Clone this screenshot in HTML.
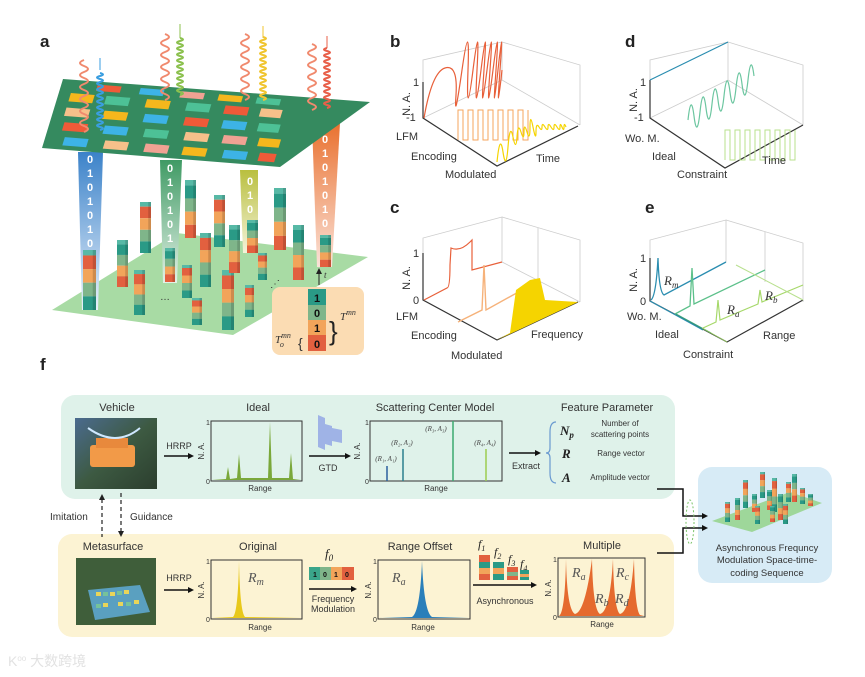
<!DOCTYPE html>
<html><head><meta charset="utf-8"><style>
html,body{margin:0;padding:0;background:#fff}
svg{display:block}
text{font-family:"Liberation Sans",Arial,sans-serif}
text:not([fill]){fill:#333}
.m{font-family:"Liberation Serif",serif;font-style:italic}
</style></head><body>
<svg width="865" height="677" viewBox="0 0 865 677" xmlns="http://www.w3.org/2000/svg">
<defs>
<symbol id="col" viewBox="0 0 12 44" preserveAspectRatio="none">
<rect x="0" y="0" width="12" height="4" fill="#57b9a6"/>
<rect x="0" y="4" width="12" height="10" fill="#e2603f"/>
<rect x="0" y="14" width="12" height="10" fill="#f2a45a"/>
<rect x="0" y="24" width="12" height="10" fill="#7fb58a"/>
<rect x="0" y="34" width="12" height="10" fill="#2a9a86"/>
<rect x="9" y="0" width="3" height="44" fill="#000" opacity="0.15"/>
</symbol>
<symbol id="col2" viewBox="0 0 12 44" preserveAspectRatio="none">
<rect x="0" y="0" width="12" height="4" fill="#57b9a6"/>
<rect x="0" y="4" width="12" height="10" fill="#2a9a86"/>
<rect x="0" y="14" width="12" height="10" fill="#7fb58a"/>
<rect x="0" y="24" width="12" height="10" fill="#f2a45a"/>
<rect x="0" y="34" width="12" height="10" fill="#e2603f"/>
<rect x="9" y="0" width="3" height="44" fill="#000" opacity="0.15"/>
</symbol>
<linearGradient id="gb" x1="0" y1="0" x2="0" y2="1"><stop offset="0" stop-color="#3b82c9"/><stop offset="1" stop-color="#e8f1fb"/></linearGradient>
<linearGradient id="gg" x1="0" y1="0" x2="0" y2="1"><stop offset="0" stop-color="#3f9a64"/><stop offset="1" stop-color="#e3f1e6"/></linearGradient>
<linearGradient id="gy" x1="0" y1="0" x2="0" y2="1"><stop offset="0" stop-color="#b9bf3e"/><stop offset="1" stop-color="#f4f3da"/></linearGradient>
<linearGradient id="go" x1="0" y1="0" x2="0" y2="1"><stop offset="0" stop-color="#e9712f"/><stop offset="1" stop-color="#fbe2d8"/></linearGradient>
<linearGradient id="car" x1="0" y1="0" x2="1" y2="1"><stop offset="0" stop-color="#4b6b8f"/><stop offset="0.5" stop-color="#3d5a42"/><stop offset="1" stop-color="#2b3e2e"/></linearGradient>
</defs>

<!-- ===== Panel a ===== -->
<text x="40" y="47" font-size="17" font-weight="bold" fill="#222">a</text>
<polygon points="52,310 177,233 368,257 233,335" fill="#a8dba4"/>
<polygon points="78,152 103,152 98,310 82,310" fill="url(#gb)"/>
<polygon points="160,160 182,160 177,283 163,283" fill="url(#gg)"/>
<polygon points="240,170 258,170 258,253 243,253" fill="url(#gy)"/>
<polygon points="312,123 340,123 332,267 317,267" fill="url(#go)"/>
<g font-size="11" font-weight="bold" text-anchor="middle">
<text x="90" y="163" fill="#fff">0</text><text x="90" y="177" fill="#fff">1</text><text x="90" y="191" fill="#fff">0</text><text x="90" y="205" fill="#fff">1</text><text x="90" y="219" fill="#fff">0</text><text x="90" y="233" fill="#fff">1</text><text x="90" y="247" fill="#fff">0</text>
<text x="170" y="172" fill="#fff">0</text><text x="170" y="186" fill="#fff">1</text><text x="170" y="200" fill="#fff">0</text><text x="170" y="214" fill="#fff">1</text><text x="170" y="228" fill="#fff">0</text><text x="170" y="242" fill="#fff">1</text><text x="170" y="256" fill="#fff">1</text>
<text x="250" y="185" fill="#fff">0</text><text x="250" y="199" fill="#fff">1</text><text x="250" y="213" fill="#fff">0</text>
<text x="325" y="143" fill="#fff">0</text><text x="325" y="157" fill="#fff">1</text><text x="325" y="171" fill="#fff">0</text><text x="325" y="185" fill="#fff">1</text><text x="325" y="199" fill="#fff">0</text><text x="325" y="213" fill="#fff">1</text><text x="325" y="227" fill="#fff">0</text>
</g>
<use href="#col" x="83" y="250" width="13" height="60"/>
<use href="#col2" x="117" y="240" width="11" height="47"/>
<use href="#col" x="140" y="202" width="11" height="51"/>
<use href="#col" x="134" y="270" width="11" height="45"/>
<use href="#col2" x="165" y="248" width="10" height="34"/>
<use href="#col" x="182" y="265" width="10" height="33"/>
<use href="#col2" x="185" y="180" width="11" height="58"/>
<use href="#col" x="192" y="298" width="10" height="27"/>
<use href="#col" x="200" y="233" width="11" height="54"/>
<use href="#col" x="214" y="195" width="11" height="52"/>
<use href="#col" x="222" y="270" width="12" height="60"/>
<use href="#col2" x="229" y="225" width="11" height="48"/>
<use href="#col2" x="247" y="220" width="11" height="33"/>
<use href="#col" x="245" y="285" width="9" height="32"/>
<use href="#col" x="258" y="253" width="9" height="27"/>
<use href="#col2" x="274" y="188" width="12" height="62"/>
<use href="#col2" x="293" y="225" width="11" height="55"/>
<use href="#col2" x="320" y="235" width="11" height="32"/>
<text x="160" y="300" font-size="10">…</text>
<text x="270" y="287" font-size="10">⋰</text>
<rect x="272" y="287" width="92" height="68" rx="8" fill="#fbdcb3"/>
<rect x="308" y="289" width="18" height="62" fill="#2a9a86"/>
<rect x="308" y="305" width="18" height="15" fill="#7fb58a"/>
<rect x="308" y="320" width="18" height="15" fill="#f2a45a"/>
<rect x="308" y="335" width="18" height="16" fill="#e2603f"/>
<g font-size="11" font-weight="bold" text-anchor="middle">
<text x="317" y="302" fill="#111">1</text><text x="317" y="317" fill="#111">0</text><text x="317" y="332" fill="#111">1</text><text x="317" y="348" fill="#111">0</text></g>
<line x1="319" y1="285" x2="319" y2="272" stroke="#222"/><polygon points="316,274 322,274 319,268" fill="#222"/>
<text x="324" y="278" class="m" font-size="9">t</text>
<text x="340" y="320" class="m" font-size="11">T<tspan font-size="8" dy="-5">mn</tspan></text>
<text x="275" y="343" class="m" font-size="11">T<tspan font-size="8" dy="-5">mn</tspan><tspan font-size="8" dx="-11" dy="9">o</tspan></text>
<text x="298" y="348" font-size="14">{</text>
<text x="329" y="340" font-size="26" fill="#222">}</text>
<polygon points="63,79 370,102 280,167 42,148" fill="#358a5f"/>
<g transform="matrix(238,19,21,-69,42,148)">
<rect x="0.08" y="0.06" width="0.1" height="0.12" fill="#3db3e6"/>
<rect x="0.25" y="0.06" width="0.1" height="0.12" fill="#f6c08a"/>
<rect x="0.42" y="0.06" width="0.1" height="0.12" fill="#f0a293"/>
<rect x="0.58" y="0.06" width="0.1" height="0.12" fill="#f5b71d"/>
<rect x="0.75" y="0.06" width="0.1" height="0.12" fill="#3db3e6"/>
<rect x="0.9" y="0.06" width="0.07" height="0.12" fill="#ef5a38"/>
<rect x="0.06" y="0.27" width="0.1" height="0.12" fill="#ef5a38"/>
<rect x="0.23" y="0.27" width="0.1" height="0.12" fill="#3db3e6"/>
<rect x="0.4" y="0.27" width="0.1" height="0.12" fill="#4dc196"/>
<rect x="0.57" y="0.27" width="0.1" height="0.12" fill="#f6c08a"/>
<rect x="0.73" y="0.27" width="0.1" height="0.12" fill="#f0a293"/>
<rect x="0.88" y="0.27" width="0.09" height="0.12" fill="#f5b71d"/>
<rect x="0.05" y="0.48" width="0.1" height="0.12" fill="#f6c08a"/>
<rect x="0.21" y="0.48" width="0.1" height="0.12" fill="#f5b71d"/>
<rect x="0.38" y="0.48" width="0.1" height="0.12" fill="#3db3e6"/>
<rect x="0.55" y="0.48" width="0.1" height="0.12" fill="#ef5a38"/>
<rect x="0.71" y="0.48" width="0.1" height="0.12" fill="#3db3e6"/>
<rect x="0.86" y="0.48" width="0.09" height="0.12" fill="#4dc196"/>
<rect x="0.05" y="0.69" width="0.1" height="0.12" fill="#f5b71d"/>
<rect x="0.2" y="0.69" width="0.1" height="0.12" fill="#4dc196"/>
<rect x="0.37" y="0.69" width="0.1" height="0.12" fill="#f5b71d"/>
<rect x="0.54" y="0.69" width="0.1" height="0.12" fill="#4dc196"/>
<rect x="0.7" y="0.69" width="0.1" height="0.12" fill="#ef5a38"/>
<rect x="0.85" y="0.69" width="0.09" height="0.12" fill="#f6c08a"/>
<rect x="0.15" y="0.87" width="0.1" height="0.09" fill="#ef5a38"/>
<rect x="0.33" y="0.87" width="0.1" height="0.09" fill="#3db3e6"/>
<rect x="0.5" y="0.87" width="0.1" height="0.09" fill="#f0a293"/>
<rect x="0.66" y="0.87" width="0.1" height="0.09" fill="#f5b71d"/>
<rect x="0.82" y="0.87" width="0.1" height="0.09" fill="#4dc196"/>
</g>
<g fill="none" stroke-width="2">
<path d="M84,132 q8,-3 0,-6 t0,-6 t0,-6 t0,-6 t0,-6 t0,-6 t0,-6 t0,-6 t0,-6 t0,-6 t0,-6 t0,-6" stroke="#f08a6e"/>
<path d="M100,130 q6,-1.5 0,-3 t0,-3 t0,-3 t0,-3 t0,-3 t0,-3 t0,-3 t0,-3 t0,-3 t0,-3 t0,-3 t0,-3 t0,-3 t0,-3 t0,-3 t0,-3 t0,-3 t0,-3 t0,-3" stroke="#3a9ee0"/>
<path d="M165,100 q8,-3 0,-6 t0,-6 t0,-6 t0,-6 t0,-6 t0,-6 t0,-6 t0,-6 t0,-6 t0,-6 t0,-6" stroke="#f08a6e"/>
<path d="M180,95 q6,-1.5 0,-3 t0,-3 t0,-3 t0,-3 t0,-3 t0,-3 t0,-3 t0,-3 t0,-3 t0,-3 t0,-3 t0,-3 t0,-3 t0,-3 t0,-3 t0,-3 t0,-3 t0,-3 t0,-3" stroke="#8cc14f"/>
<path d="M245,100 q8,-3 0,-6 t0,-6 t0,-6 t0,-6 t0,-6 t0,-6 t0,-6 t0,-6 t0,-6 t0,-6 t0,-6" stroke="#f08a6e"/>
<path d="M263,100 q6,-1.5 0,-3 t0,-3 t0,-3 t0,-3 t0,-3 t0,-3 t0,-3 t0,-3 t0,-3 t0,-3 t0,-3 t0,-3 t0,-3 t0,-3 t0,-3 t0,-3 t0,-3 t0,-3 t0,-3 t0,-3 t0,-3" stroke="#f0c530"/>
<path d="M312,110 q8,-3 0,-6 t0,-6 t0,-6 t0,-6 t0,-6 t0,-6 t0,-6 t0,-6 t0,-6 t0,-6 t0,-6" stroke="#f08a6e"/>
<path d="M327,108 q6,-1.5 0,-3 t0,-3 t0,-3 t0,-3 t0,-3 t0,-3 t0,-3 t0,-3 t0,-3 t0,-3 t0,-3 t0,-3 t0,-3 t0,-3 t0,-3 t0,-3 t0,-3 t0,-3 t0,-3 t0,-3" stroke="#e8604a"/>
</g>
<g stroke-width="1"><line x1="100" y1="70" x2="100" y2="58" stroke="#3a9ee0"/><line x1="180" y1="38" x2="180" y2="24" stroke="#8cc14f"/><line x1="263" y1="38" x2="263" y2="26" stroke="#f0c530"/><line x1="327" y1="48" x2="327" y2="36" stroke="#e8604a"/></g>

<!-- ===== Panel b ===== -->
<text x="390" y="47" font-size="17" font-weight="bold" fill="#222">b</text>
<g stroke="#ccc" fill="none" stroke-width="0.8">
<polyline points="423,118 423,60 502,42 502,80 423,118"/>
<polyline points="502,42 580,65 580,125"/><line x1="502" y1="80" x2="580" y2="125"/>
</g>
<g stroke="#333" fill="none" stroke-width="1.2"><polyline points="423,82 423,118 497,166 578,126"/></g>
<path d="M424,118 Q432,72 445,68 T456,95 T462,70 t6,0 t5,0 t4,0 t4,0 t3,0 t3,0 t3,0 t3,0 t3,0 t2,0 t2,0 t2,0" fill="none" stroke="#e8603a" stroke-width="1.2"/>
<path d="M458,140 v-30 h5 v30 h5 v-30 h5 v30 h5 v-30 h5 v30 h5 v-30 h5 v30 h5 v-30 h5 v30 h5 v-30 h5 v30 h5 v-30 h5 v30 h5 v-30" fill="none" stroke="#f6a55e" stroke-width="1"/>
<path d="M497,162 q3,-30 6,-10 t5,-5 t5,-10 t4,0 t4,-5 t3,0 t3,0 t3,-5 t3,0 t3,5 t3,-5 t3,0 t3,0 t3,0 t3,0 t3,0 t3,0 t3,0 t2,0 t2,0 t2,0" fill="none" stroke="#f5d400" stroke-width="1.2"/>
<g font-size="11"><text x="413" y="86">1</text><text x="406" y="121">-1</text>
<text x="410" y="104" transform="rotate(-90 410 104)" text-anchor="middle">N. A.</text>
<text x="396" y="140">LFM</text><text x="411" y="160">Encoding</text><text x="445" y="178">Modulated</text><text x="536" y="162">Time</text></g>

<!-- ===== Panel d ===== -->
<text x="625" y="47" font-size="17" font-weight="bold" fill="#222">d</text>
<g stroke="#ccc" fill="none" stroke-width="0.8">
<polyline points="650,118 650,60 728,42 728,80 650,118"/>
<polyline points="728,42 803,65 803,125"/><line x1="728" y1="80" x2="803" y2="125"/>
</g>
<g stroke="#333" fill="none" stroke-width="1.2"><polyline points="650,80 650,118 725,168 803,125"/></g>
<line x1="650" y1="80" x2="728" y2="42" stroke="#2a8db0" stroke-width="1.2"/>
<path d="M688,120 q3,-28 6,-4 t6,-4 t6,-4 t6,-4 t6,-4 t6,-4 t6,-4 t6,-4 t6,-4 t6,-4 t6,-4" fill="none" stroke="#6cc6a0" stroke-width="1.2"/>
<path d="M725,160 v-30 h5 v30 h5 v-30 h5 v30 h5 v-30 h5 v30 h5 v-30 h5 v30 h5 v-30 h5 v30 h5 v-30 h5 v30 h5 v-30 h5 v30 h5 v-30" fill="none" stroke="#b8e08e" stroke-width="1"/>
<g font-size="11"><text x="640" y="86">1</text><text x="634" y="121">-1</text>
<text x="637" y="100" transform="rotate(-90 637 100)" text-anchor="middle">N. A.</text>
<text x="625" y="142">Wo. M.</text><text x="652" y="160">Ideal</text><text x="677" y="178">Constraint</text><text x="762" y="164">Time</text></g>

<!-- ===== Panel c ===== -->
<text x="390" y="213" font-size="17" font-weight="bold" fill="#222">c</text>
<g stroke="#ccc" fill="none" stroke-width="0.8">
<polyline points="423,300 423,238 502,217 502,262"/>
<polyline points="502,217 580,240 580,302"/><line x1="502" y1="262" x2="580" y2="302"/><line x1="538" y1="228" x2="538" y2="280"/>
</g>
<g stroke="#333" fill="none" stroke-width="1.2"><polyline points="423,253 423,300 497,340 578,302"/></g>
<path d="M424,300 L447,288 Q450,288 450,265 L451,248 Q460,252 470,242 L472,240 L472,270 L502,262" fill="none" stroke="#e8603a" stroke-width="1.2"/>
<path d="M458,322 L482,310 L484,265 L486,310 L540,280" fill="none" stroke="#f6b27a" stroke-width="1.4"/>
<path d="M497,340 L510,333 L516,290 L530,280 L540,278 L545,300 L578,302 L497,340Z" fill="#f5d400"/>
<g font-size="11"><text x="413" y="257">1</text><text x="413" y="304">0</text>
<text x="410" y="278" transform="rotate(-90 410 278)" text-anchor="middle">N. A.</text>
<text x="396" y="320">LFM</text><text x="411" y="339">Encoding</text><text x="451" y="359">Modulated</text><text x="531" y="338">Frequency</text></g>

<!-- ===== Panel e ===== -->
<text x="645" y="213" font-size="17" font-weight="bold" fill="#222">e</text>
<g stroke="#ccc" fill="none" stroke-width="0.8">
<polyline points="650,300 650,240 726,220 726,262"/>
<polyline points="726,220 803,243 803,302"/><line x1="765" y1="232" x2="765" y2="282"/>
</g>
<g stroke="#333" fill="none" stroke-width="1.2"><polyline points="650,258 650,301 727,342 803,300"/></g>
<path d="M651,300 Q656,296 658,258 Q659,292 664,295 L726,262" fill="none" stroke="#2a8db0" stroke-width="1.3"/>
<line x1="650" y1="301" x2="703" y2="330" stroke="#2a8db0" stroke-width="1.2"/>
<path d="M675,314 L690,306 L692,268 L694,304 L765,270" fill="none" stroke="#5cc08a" stroke-width="1.3"/>
<line x1="676" y1="314" x2="711" y2="333" stroke="#3aa27a" stroke-width="1"/>
<path d="M703,328 L716,322 L718,300 L720,320 L758,304 L760,290 L762,302 L803,285" fill="none" stroke="#a6d86a" stroke-width="1.2"/>
<line x1="702" y1="328" x2="727" y2="342" stroke="#8dc25a" stroke-width="1"/>
<line x1="736" y1="265" x2="803" y2="300" stroke="#b8e08e" stroke-width="1"/>
<g font-size="11"><text x="640" y="262">1</text><text x="640" y="305">0</text>
<text x="637" y="280" transform="rotate(-90 637 280)" text-anchor="middle">N. A.</text>
<text x="627" y="320">Wo. M.</text><text x="655" y="338">Ideal</text><text x="683" y="358">Constraint</text><text x="763" y="339">Range</text></g>
<g font-size="13"><text x="664" y="285" class="m">R<tspan font-size="9" dy="3">m</tspan></text><text x="727" y="314" class="m">R<tspan font-size="9" dy="3">a</tspan></text><text x="765" y="300" class="m">R<tspan font-size="9" dy="3">b</tspan></text></g>

<!-- ===== Panel f ===== -->
<text x="40" y="370" font-size="17" font-weight="bold" fill="#222">f</text>
<rect x="61" y="395" width="614" height="104" rx="14" fill="#dff2ea"/>
<rect x="58" y="534" width="616" height="103" rx="14" fill="#fcf3d3"/>
<rect x="698" y="467" width="134" height="116" rx="14" fill="#d7ebf6"/>

<g font-size="11" text-anchor="middle">
<text x="117" y="411">Vehicle</text><text x="258" y="411">Ideal</text><text x="435" y="411">Scattering Center Model</text><text x="607" y="411">Feature Parameter</text>
<text x="113" y="550">Metasurface</text><text x="258" y="550">Original</text><text x="420" y="550">Range Offset</text><text x="602" y="549">Multiple</text>
</g>
<rect x="75" y="418" width="82" height="71" fill="url(#car)"/>
<rect x="90" y="445" width="45" height="22" rx="3" fill="#f29a48"/>
<rect x="96" y="438" width="32" height="10" fill="#e8893c"/>
<path d="M88,428 Q116,448 140,428" fill="none" stroke="#cfe8ff" stroke-width="2"/>
<rect x="76" y="558" width="80" height="67" fill="#3f5e3a"/>
<polygon points="88,590 140,585 150,612 95,620" fill="#5aa0c0"/>
<g fill="#e8d55a"><rect x="96" y="592" width="5" height="4"/><rect x="110" y="592" width="5" height="4"/><rect x="124" y="590" width="5" height="4"/><rect x="103" y="603" width="5" height="4"/><rect x="118" y="602" width="5" height="4"/><rect x="134" y="600" width="5" height="4"/></g>
<g fill="#76c29a"><rect x="103" y="592" width="5" height="4"/><rect x="117" y="591" width="5" height="4"/><rect x="96" y="604" width="5" height="4"/><rect x="126" y="602" width="5" height="4"/></g>

<g stroke="#222" stroke-dasharray="4,3" stroke-width="1.2"><line x1="102" y1="499" x2="102" y2="537"/><line x1="121" y1="493" x2="121" y2="532"/></g>
<polygon points="99,500 105,500 102,494" fill="#222"/><polygon points="118,531 124,531 121,537" fill="#222"/>
<text x="50" y="520" font-size="10">Imitation</text><text x="130" y="520" font-size="10">Guidance</text>

<g stroke="#111" stroke-width="1.5"><line x1="164" y1="456" x2="189" y2="456"/><line x1="309" y1="456" x2="346" y2="456"/><line x1="509" y1="453" x2="536" y2="453"/>
<line x1="164" y1="590" x2="189" y2="590"/><line x1="309" y1="589" x2="352" y2="589"/><line x1="473" y1="585" x2="532" y2="585"/></g>
<g fill="#111"><polygon points="188,453 194,456 188,459"/><polygon points="345,453 351,456 345,459"/><polygon points="535,450 541,453 535,456"/>
<polygon points="188,587 194,590 188,593"/><polygon points="351,586 357,589 351,592"/><polygon points="531,582 537,585 531,588"/></g>
<g font-size="9" text-anchor="middle"><text x="179" y="449">HRRP</text><text x="179" y="581">HRRP</text><text x="328" y="471">GTD</text><text x="526" y="469">Extract</text>
<text x="333" y="602">Frequency</text><text x="333" y="612">Modulation</text><text x="505" y="604">Asynchronous</text></g>

<g fill="#9fb3e6"><polygon points="318,415 325,418 325,450 318,447"/><polygon points="325,424 332,426 332,446 325,444"/><polygon points="332,428 342,430 342,443 332,441"/></g>

<g fill="none" stroke="#333" stroke-width="1">
<rect x="211" y="421" width="91" height="60"/><rect x="370" y="421" width="132" height="60"/>
<rect x="211" y="560" width="91" height="59"/><rect x="378" y="560" width="92" height="59"/><rect x="558" y="558" width="87" height="59"/></g>
<g font-size="7"><text x="206" y="425">1</text><text x="206" y="484">0</text><text x="365" y="425">1</text><text x="365" y="484">0</text>
<text x="206" y="564">1</text><text x="206" y="622">0</text><text x="373" y="564">1</text><text x="373" y="622">0</text><text x="553" y="562">1</text><text x="553" y="620">0</text></g>
<g font-size="8" text-anchor="middle"><text x="260" y="491">Range</text><text x="436" y="491">Range</text><text x="260" y="630">Range</text><text x="423" y="630">Range</text><text x="602" y="627">Range</text>
<text x="204" y="451" transform="rotate(-90 204 451)">N. A.</text><text x="360" y="451" transform="rotate(-90 360 451)">N. A.</text>
<text x="204" y="590" transform="rotate(-90 204 590)">N. A.</text><text x="371" y="590" transform="rotate(-90 371 590)">N. A.</text><text x="551" y="588" transform="rotate(-90 551 588)">N. A.</text></g>
<path d="M212,480 L226,479 L228,467 L230,479 L237,478 L239,454 L241,478 L268,478 L270,422 L272,478 L289,478 L291,453 L293,479 L301,480Z" fill="#7aa83a"/>
<g stroke-width="1.5"><line x1="387" y1="481" x2="387" y2="466" stroke="#2a5f9e"/><line x1="403" y1="481" x2="403" y2="449" stroke="#2a7f8e"/><line x1="453" y1="481" x2="453" y2="421" stroke="#3aaa70"/><line x1="486" y1="481" x2="486" y2="449" stroke="#9ccc50"/></g>
<g font-size="7" text-anchor="middle" fill="#444"><text x="386" y="461" class="m" fill="#444">(R₁, A₁)</text><text x="402" y="445" class="m" fill="#444">(R₂, A₂)</text><text x="436" y="431" class="m" fill="#444">(R₃, A₃)</text><text x="485" y="445" class="m" fill="#444">(R₄, A₄)</text></g>
<path d="M556,422 Q550,422 550,432 L550,448 Q550,453 546,453 Q550,453 550,458 L550,473 Q550,483 556,483" fill="none" stroke="#6a9ad0" stroke-width="1.2"/>
<g font-weight="bold" font-size="13"><text x="560" y="435" class="m" fill="#222">N<tspan font-size="9" dy="3">p</tspan></text><text x="562" y="458" class="m" fill="#222">R</text><text x="562" y="482" class="m" fill="#222">A</text></g>
<g font-size="8" text-anchor="middle"><text x="620" y="426">Number of</text><text x="620" y="437">scattering points</text><text x="621" y="456">Range vector</text><text x="620" y="480">Amplitude vector</text></g>
<path d="M212,618 L233,617 Q238,612 239,561 Q240,612 245,617 L301,618Z" fill="#e8c81a"/>
<path d="M379,618 L412,617 Q420,612 422,561 Q424,612 432,617 L469,618Z" fill="#2a7fba"/>
<path d="M559,616 Q565,612 566,559 Q567,610 575,614 Q585,612 592,559 Q593,610 600,614 Q610,612 613,559 Q614,610 620,614 Q630,612 634,559 Q635,610 640,615 L644,616Z" fill="#e56a2e"/>
<g font-size="14"><text x="248" y="582" class="m" fill="#555">R<tspan font-size="10" dy="3">m</tspan></text><text x="392" y="582" class="m" fill="#555">R<tspan font-size="10" dy="3">a</tspan></text>
<text x="572" y="577" class="m" fill="#555">R<tspan font-size="10" dy="3">a</tspan></text><text x="616" y="577" class="m" fill="#555">R<tspan font-size="10" dy="3">c</tspan></text><text x="595" y="603" class="m" fill="#555">R<tspan font-size="10" dy="3">b</tspan></text><text x="615" y="603" class="m" fill="#555">R<tspan font-size="10" dy="3">d</tspan></text></g>
<text x="325" y="558" class="m" font-size="13" fill="#222">f<tspan font-size="9" dy="3">0</tspan></text>
<rect x="309" y="567" width="45" height="13" fill="#3aa58a"/><rect x="320" y="567" width="11" height="13" fill="#7fb58a"/><rect x="331" y="567" width="11" height="13" fill="#f2a45a"/><rect x="342" y="567" width="12" height="13" fill="#e2603f"/>
<g font-size="7" font-weight="bold"><text x="313" y="577" fill="#111">1</text><text x="323" y="577" fill="#111">0</text><text x="334" y="577" fill="#111">1</text><text x="345" y="577" fill="#111">0</text></g>
<g font-size="12"><text x="478" y="548" class="m" fill="#222">f<tspan font-size="8" dy="3">1</tspan></text><text x="494" y="556" class="m" fill="#222">f<tspan font-size="8" dy="3">2</tspan></text><text x="508" y="563" class="m" fill="#222">f<tspan font-size="8" dy="3">3</tspan></text><text x="520" y="568" class="m" fill="#222">f<tspan font-size="8" dy="3">4</tspan></text></g>
<rect x="479" y="555" width="11" height="25" fill="#e2603f"/><rect x="479" y="562" width="11" height="6" fill="#2a9a86"/><rect x="479" y="568" width="11" height="6" fill="#f2a45a"/>
<rect x="493" y="562" width="11" height="18" fill="#2a9a86"/><rect x="493" y="568" width="11" height="6" fill="#f2a45a"/>
<rect x="507" y="567" width="11" height="13" fill="#e2603f"/><rect x="507" y="572" width="11" height="4" fill="#7fb58a"/>
<rect x="520" y="570" width="9" height="10" fill="#2a9a86"/><rect x="520" y="574" width="9" height="3" fill="#f2a45a"/>

<g fill="none" stroke="#111" stroke-width="1.5"><polyline points="657,489 683,489 683,516 703,516"/><polyline points="657,553 683,553 683,528 703,528"/></g>
<polygon points="702,513 708,516 702,519" fill="#111"/><polygon points="702,525 708,528 702,531" fill="#111"/>
<ellipse cx="690" cy="522" rx="4" ry="22" fill="none" stroke="#7cc46a" stroke-dasharray="2,2"/>
<polygon points="712,521 790,492 822,503 752,532" fill="#9ed79a"/>
<g>
<use href="#col" x="725" y="502" width="5" height="20"/><use href="#col2" x="735" y="498" width="5" height="22"/><use href="#col" x="743" y="480" width="5" height="28"/>
<use href="#col2" x="752" y="494" width="5" height="18"/><use href="#col" x="760" y="472" width="5" height="26"/><use href="#col2" x="767" y="490" width="5" height="20"/>
<use href="#col" x="772" y="478" width="5" height="34"/><use href="#col2" x="778" y="494" width="5" height="26"/><use href="#col" x="786" y="482" width="5" height="20"/>
<use href="#col2" x="792" y="474" width="5" height="28"/><use href="#col" x="800" y="488" width="5" height="16"/><use href="#col2" x="808" y="494" width="5" height="12"/>
<use href="#col" x="755" y="506" width="5" height="18"/><use href="#col2" x="770" y="506" width="5" height="16"/><use href="#col" x="783" y="504" width="5" height="20"/>
</g>
<g font-size="9.5" text-anchor="middle"><text x="767" y="551">Asynchronous Frequncy</text><text x="767" y="563">Modulation Space-time-</text><text x="767" y="576">coding Sequence</text></g>

<text x="8" y="666" font-size="14" fill="#e2e2e2" style="font-family:'Liberation Sans','Noto Sans CJK SC',sans-serif">K<tspan font-size="8" dy="-5">oo</tspan><tspan dy="5"> 大数跨境</tspan></text>
</svg>
</body></html>
